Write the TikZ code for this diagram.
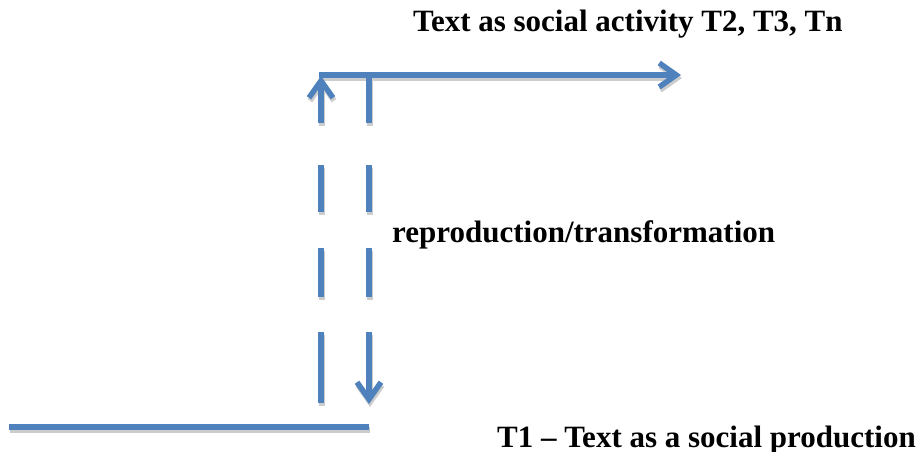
\documentclass[tikz,border=0pt]{standalone}
\usepackage{fontspec}
\setmainfont{Liberation Serif}
\usetikzlibrary{arrows.meta}
\definecolor{lineblue}{HTML}{4F81BD}
\definecolor{shadowgray}{HTML}{CCCCCC}
\tikzset{
  conn/.style={draw=lineblue, line width=5.5pt, line cap=butt},
  shade/.style={draw=shadowgray, line width=5.5pt, line cap=butt, transform canvas={shift={(1,3)}}},
  tipped/.style={-{Straight Barb[length=17pt,width=24pt]}},
  dashup/.style={dash pattern=on 71pt off 35pt on 49pt off 36pt on 47pt off 42pt on 200pt off 1pt},
  dashdown/.style={dash pattern=on 48pt off 42pt on 47pt off 36pt on 49pt off 35pt on 200pt off 1pt},
  label/.style={anchor=base west, inner sep=0pt, font=\fontsize{31pt}{31pt}\selectfont\bfseries}
}
\begin{document}
\begin{tikzpicture}[x=1pt,y=-1pt]
  \useasboundingbox[fill=white] (0,0) rectangle (921,452);
  % coordinates
  \coordinate (bl) at (9,427);
  \coordinate (br) at (369,427);
  \coordinate (upbot) at (321,403);
  \coordinate (uptop) at (321,76);
  \coordinate (hl) at (319,75);
  \coordinate (hr) at (681,75);
  \coordinate (dntop) at (369,75);
  \coordinate (dnbot) at (369,404);
  % shadows
  \draw[shade] (bl) -- (br);
  \draw[shade, tipped, dashup] (upbot) -- (uptop);
  \draw[shade, tipped, dashdown] (dntop) -- (dnbot);
  \draw[shade, tipped] (hl) -- (hr);
  % connectors
  \draw[conn] (bl) -- (br);
  \draw[conn, tipped, dashup] (upbot) -- (uptop);
  \draw[conn, tipped, dashdown] (dntop) -- (dnbot);
  \draw[conn, tipped] (hl) -- (hr);
  % labels
  \node[label] (top) at (413,32) {Text as social activity T2, T3, Tn};
  \node[label] (mid) at (392,242) {reproduction/transformation};
  \node[label] (bot) at (497,447) {T1 – Text as a social production};
\end{tikzpicture}
\end{document}
